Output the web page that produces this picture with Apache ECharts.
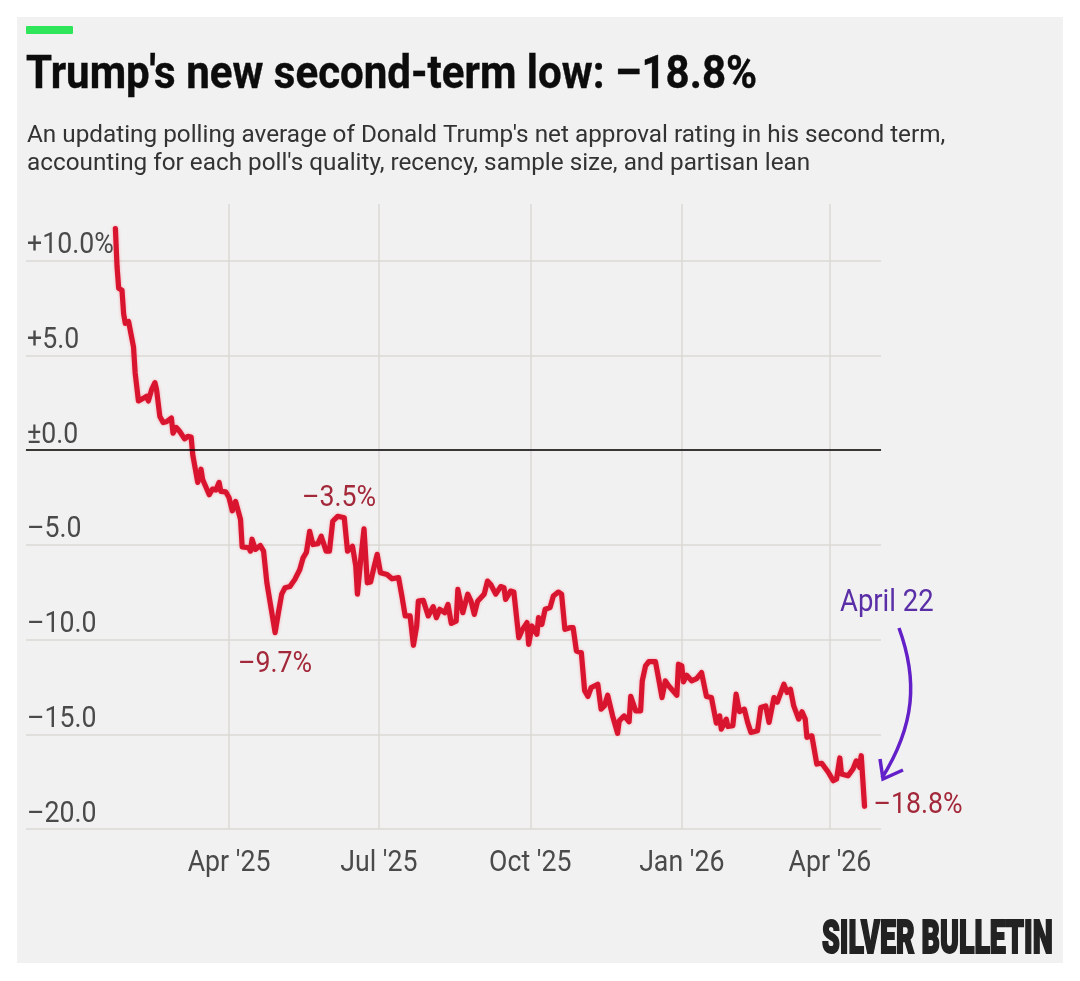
<!DOCTYPE html>
<html><head><meta charset="utf-8">
<style>html,body{margin:0;padding:0;background:#fff}#c{width:1080px;height:981px}</style>
<script src="https://cdn.jsdelivr.net/npm/echarts@6/dist/echarts.min.js"></script>
</head><body><div id="c"></div>
<script>
const titleText = "Trump's new second-term low: –18.8%";
const subtitleLines = ["An updating polling average of Donald Trump's net approval rating in his second term,", "accounting for each poll's quality, recency, sample size, and partisan lean"];
const brandText = "SILVER BULLETIN";
// days counted from 1 April 2025
const dayOffsets = [-69,-68,-67,-65,-64,-63,-61,-58,-57,-55,-52,-50,-49,-47,-45,-44,-42,-40,-38,-35,-34,-32,-30,-27,-25,-23,-22,-19,-17,-16,-12,-10,-8,-6,-5,-2,0,2,4,5,7,8,12,13,14,16,19,21,23,25,28,30,32,34,37,40,43,45,47,49,51,54,56,59,61,63,66,70,72,75,77,78,80,82,84,86,88,90,92,96,99,103,105,107,110,112,114,115,118,121,124,126,128,131,133,135,138,139,142,145,147,149,151,155,157,159,162,165,167,168,171,173,176,178,181,182,184,187,188,190,192,195,197,200,202,204,207,209,211,214,216,218,220,224,226,228,230,233,236,237,240,243,244,247,250,251,253,255,259,261,263,265,267,272,273,275,276,278,281,284,287,290,293,296,298,299,302,303,306,308,310,313,315,317,321,323,326,328,331,333,337,339,341,343,346,348,350,351,354,357,360,364,367,369,371,372,376,379,381,383,384,386];
const netApproval = [11.7,9.7,8.55,8.45,7.2,6.7,6.8,5.45,4.08,2.6,2.75,2.85,2.6,3.2,3.57,3.2,1.78,1.46,1.5,1.7,0.9,1.2,1.0,0.6,0.73,0.7,-0.25,-1.7,-1.0,-1.55,-2.35,-2.05,-2.1,-1.7,-2.17,-2.2,-2.5,-3.2,-2.7,-2.7,-3.66,-5.1,-5.15,-5.33,-4.7,-5.24,-5.03,-5.33,-7,-8.05,-9.63,-8.58,-7.6,-7.26,-7.2,-6.82,-6.3,-5.68,-5.4,-4.28,-4.98,-4.93,-4.54,-5.33,-5.33,-3.75,-3.49,-3.57,-5.33,-5.07,-6.12,-7.6,-5.77,-4.15,-7,-6.96,-6.2,-5.5,-6.47,-6.56,-6.79,-6.73,-7.7,-8.75,-8.75,-10.3,-9.28,-7.97,-7.93,-8.75,-8.26,-8.84,-8.4,-8.58,-8.14,-9.14,-9.02,-7.35,-8.58,-7.6,-7.97,-8.67,-7.97,-7.6,-6.91,-7.09,-7.6,-7.2,-7.26,-7.88,-7.44,-7.49,-9.9,-9.5,-9.1,-10.25,-9.28,-9.72,-8.84,-9.2,-8.4,-8.31,-7.7,-7.49,-7.6,-9.46,-9.37,-9.37,-10.6,-10.69,-12.7,-13,-12.53,-12.36,-13.67,-13.5,-12.94,-14.03,-14.95,-14.29,-14.03,-14.34,-13,-13.76,-13.76,-12.18,-11.39,-11.16,-11.16,-12.09,-13.06,-12.18,-12.44,-12.94,-11.3,-11.39,-12.23,-11.88,-12.18,-12.06,-11.74,-13,-13.06,-14.41,-14.03,-14.73,-14.2,-14.59,-14.55,-12.88,-13.8,-13.67,-14.37,-14.9,-14.81,-13.58,-13.5,-14.37,-13.06,-13.3,-12.36,-12.79,-12.62,-13.5,-14.2,-13.81,-14.2,-15.16,-15.08,-16.57,-16.53,-17.0,-17.45,-17.36,-16.25,-17.1,-17.19,-16.83,-16.4,-16.74,-16.13,-18.8];
const yTicks = [-20,-15,-10,-5,0,5,10];
const yTickLabels = ["–20.0","–15.0","–10.0","–5.0","±0.0","+5.0","+10.0%"];
const xTickDays = [0,91,183,275,365];
const xTickLabels = ["Apr '25","Jul '25","Oct '25","Jan '26","Apr '26"];
const noteDays = [65,28,386];
const noteValues = [-3.49,-9.63,-18.8];
const noteLabels = ["–3.5%","–9.7%","–18.8%"];

const xMin = -123.3, xMax = 396, yMin = -20, yMax = 13;
const gridColor = '#dbd9d3';
const axisFont = '30px Roboto';
const axisInk = '#4a4a4a', noteInk = '#a3283a';
const textScale = 0.89;

// condensed text placed through the chart's own scales
function textSeries(rows, labels, spec){
  return {type:'custom',z:6,silent:true,clip:false,data:rows,
    encode:{x:0,y:1},
    renderItem(params,api){
      const i = params.dataIndex;
      const p = api.coord([api.value(0),api.value(1)]);
      const s = typeof spec==='function'?spec(i):spec;
      return {type:'text',x:p[0]+s.dx,y:p[1]+s.dy,scaleX:textScale,
        style:{text:labels[i],font:axisFont,fill:s.fill,align:s.align,verticalAlign:'middle'}};
    }};
}
const noteSpec = [
  {dx:3,dy:-18,align:'center',fill:noteInk},
  {dx:0,dy:32,align:'center',fill:noteInk},
  {dx:9,dy:-1,align:'left',fill:noteInk}
];

const chart = echarts.init(document.getElementById('c'), null, {renderer:'canvas'});
chart.setOption({
  animation:false,
  backgroundColor:'#ffffff',
  graphic:[
    {type:'rect',z:-10,shape:{x:17,y:17,width:1046,height:946},style:{fill:'#f1f1f1'}},
    {type:'rect',z:1,shape:{x:26,y:26,width:47,height:8,r:1},style:{fill:'#2fe65a'}},
    {type:'text',x:26,y:53,z:5,scaleX:0.895,style:{text:titleText,fill:'#0c0c0c',font:'bold 47px Roboto',stroke:'#0c0c0c',lineWidth:0.4}},
    {type:'text',x:27,y:124,z:5,style:{text:subtitleLines[0],fill:'#333',font:'24.3px Roboto'}},
    {type:'text',x:27,y:152,z:5,style:{text:subtitleLines[1],fill:'#333',font:'24.3px Roboto'}},
    {type:'text',x:840,y:588,z:5,scaleX:0.885,style:{text:'April 22',fill:'#5a2ea6',font:'31px Roboto'}},
    {type:'bezierCurve',z:5,shape:{x1:899,y1:628,cpx1:918,cpy1:680,cpx2:915,cpy2:725,x2:882,y2:778},style:{stroke:'#6420c8',lineWidth:3.5,fill:null}},
    {type:'polyline',z:5,shape:{points:[[880,759],[883,779],[903,770]]},style:{stroke:'#6420c8',lineWidth:3.5,fill:null}},
    {type:'text',x:822,y:918,z:5,scaleX:0.62,style:{text:brandText,fill:'#222',stroke:'#222',lineWidth:2,font:'900 46px Roboto'}}
  ],
  grid:{left:26,right:199,top:204,bottom:152,containLabel:false},
  xAxis:{
    type:'value',min:xMin,max:xMax,
    axisLine:{show:true,lineStyle:{color:gridColor,width:1.5}},
    axisTick:{show:false,customValues:xTickDays},
    splitLine:{show:true,lineStyle:{color:gridColor,width:1.5}},
    axisLabel:{show:false,customValues:xTickDays}
  },
  yAxis:{
    type:'value',min:yMin,max:yMax,interval:5,
    axisLine:{show:false},axisTick:{show:false},
    splitLine:{show:true,showMaxLine:false,lineStyle:{color:gridColor,width:1.5}},
    axisLabel:{show:false}
  },
  series:[
    {type:'line',z:3,silent:true,data:[],
     markLine:{silent:true,symbol:'none',label:{show:false},lineStyle:{color:'#000',width:1.5,type:'solid'},data:[{yAxis:0}]}},
    {type:'line',z:4,showSymbol:false,smooth:false,
     data:dayOffsets.map((d,i)=>[d,netApproval[i]]),
     lineStyle:{color:'#d9142f',width:5.2,join:'round',cap:'round',shadowColor:'rgba(255,70,90,0.45)',shadowBlur:3}},
    textSeries(yTicks.map(v=>[xMin,v]),yTickLabels,{dx:1,dy:-15,align:'left',fill:axisInk}),
    textSeries(xTickDays.map(d=>[d,yMin]),xTickLabels,{dx:0,dy:34,align:'center',fill:axisInk}),
    textSeries(noteDays.map((d,i)=>[d,noteValues[i]]),noteLabels,i=>noteSpec[i])
  ]
});
</script></body></html>
